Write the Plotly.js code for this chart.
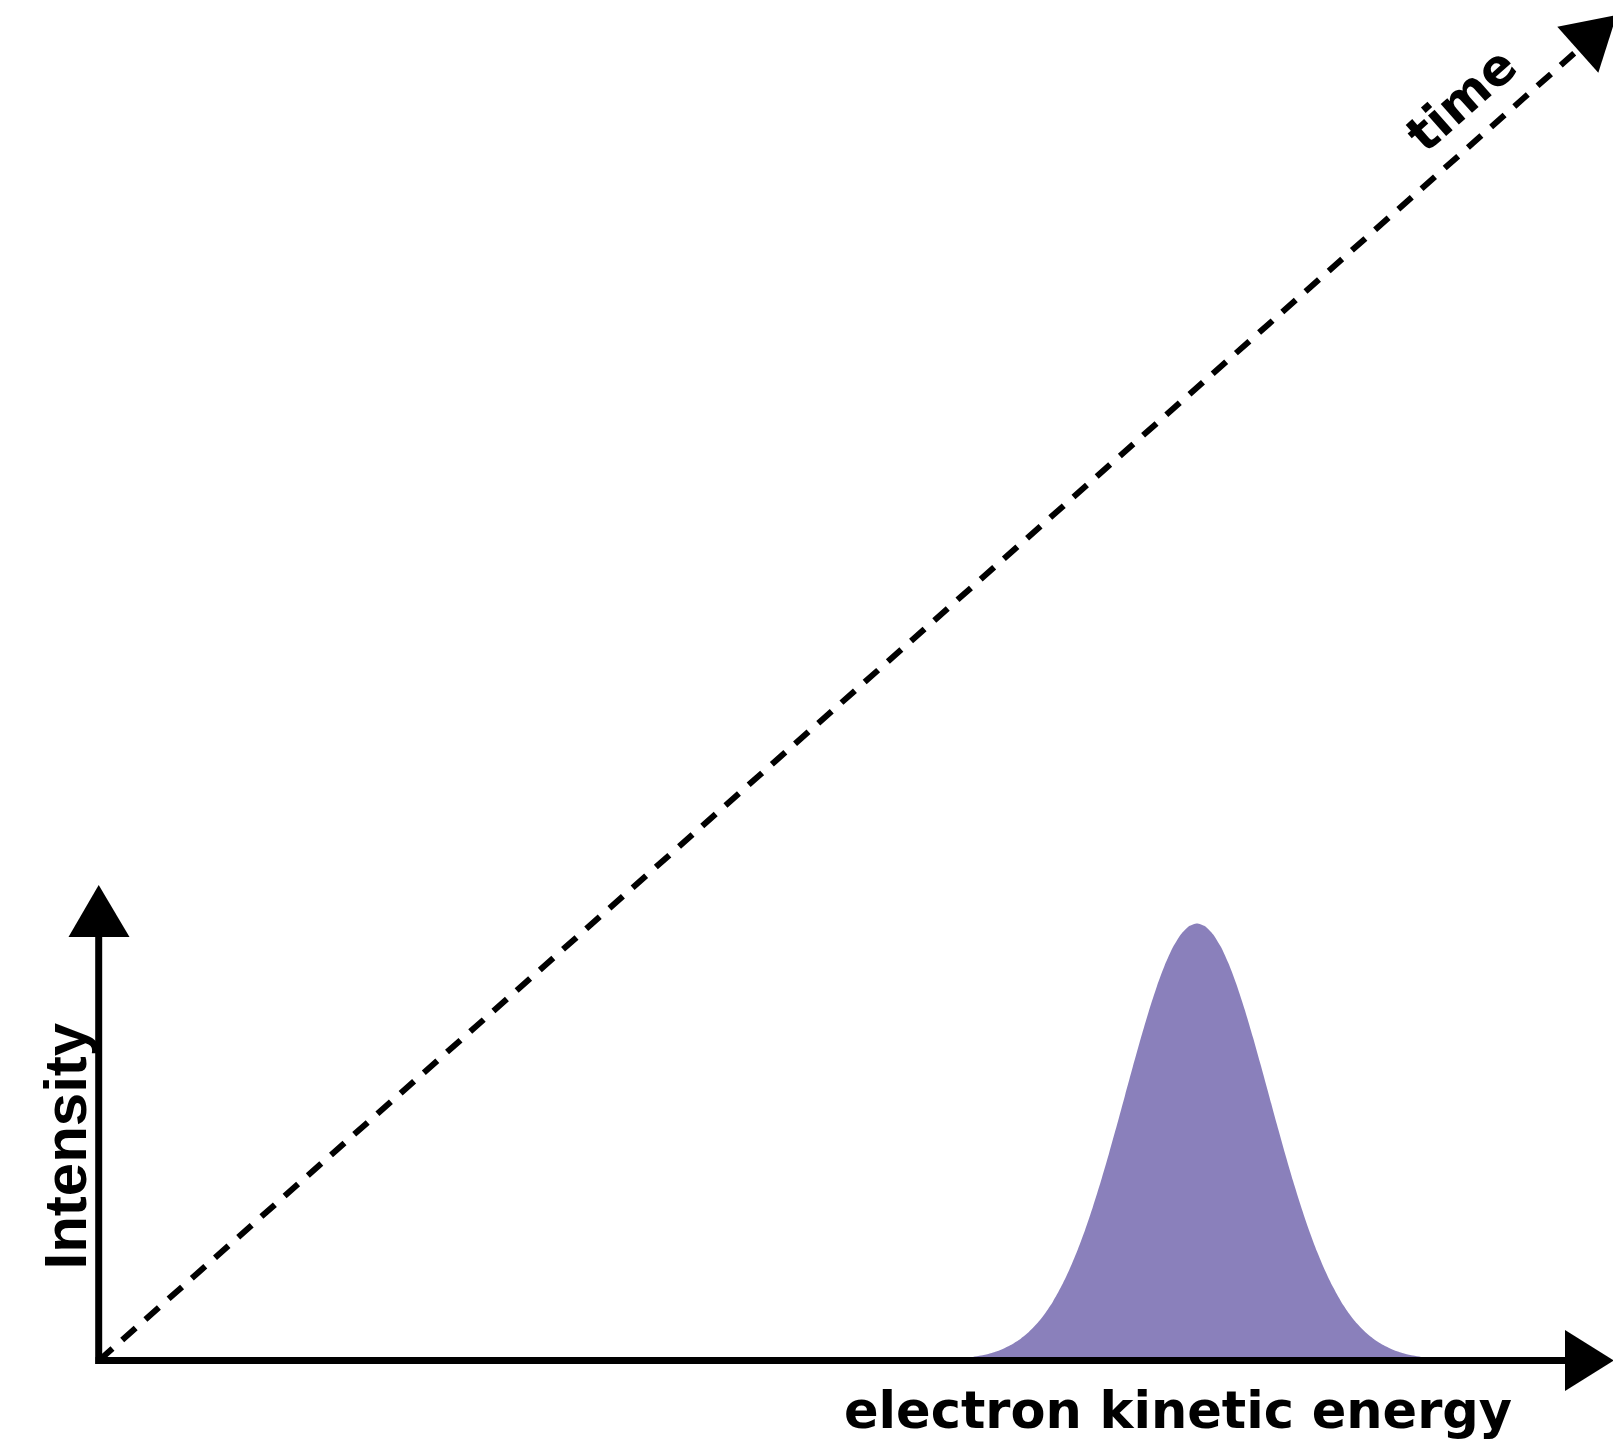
<!DOCTYPE html>
<html>
<head>
<meta charset="utf-8">
<script src="https://cdn.plot.ly/plotly-3.0.1.min.js"></script>
<style>html,body{margin:0;padding:0;background:#fff;}#chart{width:1613px;height:1441px;}</style>
</head>
<body>
<div id="chart"></div>
<script>
// Peak (arbitrary units: energy along the horizontal axis, intensity up)
const energy = [8.58, 8.66, 8.74, 8.82, 8.90, 8.98, 9.06, 9.14, 9.22, 9.30, 9.38, 9.46, 9.54, 9.62, 9.70,
                9.78, 9.86, 9.94, 10.02, 10.10, 10.18, 10.26, 10.34, 10.42, 10.50, 10.58, 10.66, 10.74, 10.82, 10.90,
                10.98,
                11.06, 11.14, 11.22, 11.30, 11.38, 11.46, 11.54, 11.62, 11.70, 11.78, 11.86, 11.94, 12.02, 12.10, 12.18,
                12.26, 12.34, 12.42, 12.50, 12.58, 12.66, 12.74, 12.82, 12.90, 12.98, 13.06, 13.14, 13.22, 13.30, 13.38];
const intensity = [0.017, 0.024, 0.035, 0.049, 0.067, 0.092, 0.125, 0.167, 0.220, 0.287, 0.370, 0.471, 0.591, 0.734, 0.900,
                   1.090, 1.303, 1.540, 1.797, 2.071, 2.357, 2.651, 2.944, 3.229, 3.499, 3.745, 3.959, 4.134, 4.263, 4.343,
                   4.370,
                   4.343, 4.263, 4.134, 3.959, 3.745, 3.499, 3.229, 2.944, 2.651, 2.357, 2.071, 1.797, 1.540, 1.303, 1.090,
                   0.900, 0.734, 0.591, 0.471, 0.370, 0.287, 0.220, 0.167, 0.125, 0.092, 0.067, 0.049, 0.035, 0.024, 0.017];

const xLabel = "electron kinetic energy";
const yLabel = "Intensity";
const tLabel = "time";

const fillColor = "#8a80bb";

const trace = {
  x: energy, y: intensity, type: "scatter", mode: "lines",
  line: {width: 0, shape: "spline", smoothing: 0.6, simplify: false, color: fillColor},
  fill: "tozeroy", fillcolor: fillColor, hoverinfo: "skip", showlegend: false
};

const layout = {
  width: 1613, height: 1441,
  margin: {l: 0, r: 0, t: 0, b: 0, pad: 0},
  paper_bgcolor: "#fff", plot_bgcolor: "#fff",
  showlegend: false, hovermode: false,
  xaxis: {range: [-0.99, 15.14], visible: false, fixedrange: true},
  yaxis: {range: [-0.805, 13.605], visible: false, fixedrange: true},
  shapes: [
    // intensity axis
    {type: "line", layer: "above", x0: -0.003, x1: -0.003, y0: -0.035, y1: 4.25, line: {color: "#000", width: 7}},
    {type: "path", layer: "above", path: "M -0.305,4.235 L 0.305,4.235 L -0.003,4.755 Z", fillcolor: "#000", line: {width: 0}},
    // energy axis
    {type: "line", layer: "above", x0: -0.035, x1: 14.67, y0: 0, y1: 0, line: {color: "#000", width: 7}},
    {type: "path", layer: "above", path: "M 14.66,-0.305 L 14.66,0.305 L 15.15,0 Z", fillcolor: "#000", line: {width: 0}},
    // time axis (dashed diagonal)
    {type: "line", layer: "above", x0: 0, y0: 0, x1: 14.79, y1: 13.105, line: {color: "#000", width: 6, dash: "18px,13px"}},
    {type: "path", layer: "above", path: "M 14.583,13.338 L 14.993,12.878 L 15.176,13.454 Z", fillcolor: "#000", line: {width: 0}}
  ],
  annotations: [
    {text: xLabel, x: 7.43, y: -0.18, xref: "x", yref: "y", xanchor: "left", yanchor: "top", showarrow: false,
     font: {family: "DejaVu Sans", size: 51, color: "#000", weight: "bold"}},
    {text: yLabel, x: -0.345, y: 2.145, xref: "x", yref: "y", xanchor: "center", yanchor: "middle", showarrow: false,
     textangle: -90, font: {family: "Liberation Sans", size: 60, color: "#000", weight: "bold"}},
    {text: tLabel, x: 13.62, y: 12.605, xref: "x", yref: "y", xanchor: "center", yanchor: "middle", showarrow: false,
     textangle: -41.6, font: {family: "DejaVu Sans", size: 50, color: "#000", weight: "bold"}}
  ]
};

Plotly.newPlot("chart", [trace], layout, {displayModeBar: false, staticPlot: true});
</script>
</body>
</html>
